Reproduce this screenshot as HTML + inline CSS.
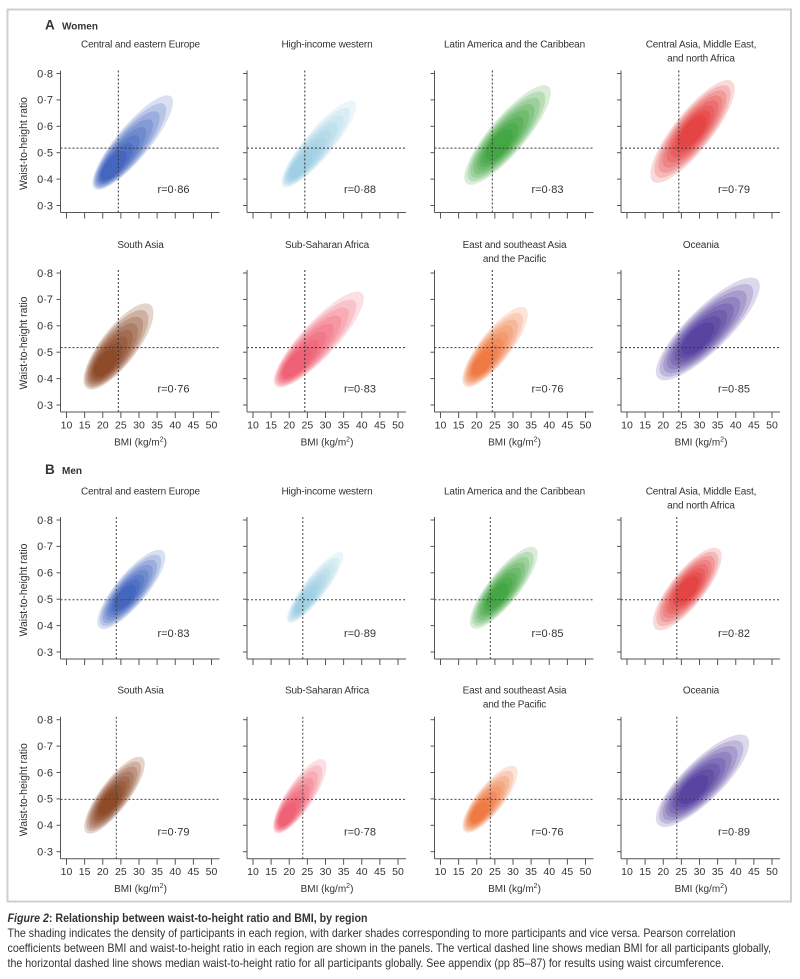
<!DOCTYPE html>
<html>
<head>
<meta charset="utf-8">
<style>
html,body{margin:0;padding:0;background:#fff;}
svg{display:block;}
text{font-family:"Liberation Sans",sans-serif;fill:#333;}
</style>
</head>
<body>
<svg width="800" height="979" viewBox="0 0 800 979" xmlns="http://www.w3.org/2000/svg">
<defs>
  <g id="T0">
    <ellipse cx="0" cy="0" rx="1" ry="1"/>
    <ellipse cx="0" cy="0" rx="0.9" ry="0.921"/>
    <ellipse cx="0" cy="0" rx="0.8" ry="0.843"/>
    <ellipse cx="0" cy="0" rx="0.7" ry="0.764"/>
    <ellipse cx="0" cy="0" rx="0.6" ry="0.686"/>
    <ellipse cx="0" cy="0" rx="0.5" ry="0.607"/>
    <ellipse cx="0" cy="0" rx="0.4" ry="0.529"/>
    <ellipse cx="0" cy="0" rx="0.3" ry="0.45"/>
  </g>
  <g id="T1">
    <ellipse cx="0" cy="0" rx="1" ry="1"/>
    <ellipse cx="-0.0286" cy="0" rx="0.9" ry="0.921"/>
    <ellipse cx="-0.0571" cy="0" rx="0.8" ry="0.843"/>
    <ellipse cx="-0.0857" cy="0" rx="0.7" ry="0.764"/>
    <ellipse cx="-0.1143" cy="0" rx="0.6" ry="0.686"/>
    <ellipse cx="-0.1429" cy="0" rx="0.5" ry="0.607"/>
    <ellipse cx="-0.1714" cy="0" rx="0.4" ry="0.529"/>
    <ellipse cx="-0.2" cy="0" rx="0.3" ry="0.45"/>
  </g>
  <g id="T2">
    <ellipse cx="0" cy="0" rx="1" ry="1"/>
    <ellipse cx="-0.0571" cy="0" rx="0.9" ry="0.921"/>
    <ellipse cx="-0.1143" cy="0" rx="0.8" ry="0.843"/>
    <ellipse cx="-0.1714" cy="0" rx="0.7" ry="0.764"/>
    <ellipse cx="-0.2286" cy="0" rx="0.6" ry="0.686"/>
    <ellipse cx="-0.2857" cy="0" rx="0.5" ry="0.607"/>
    <ellipse cx="-0.3429" cy="0" rx="0.4" ry="0.529"/>
    <ellipse cx="-0.4" cy="0" rx="0.3" ry="0.45"/>
  </g>
  <g id="T3">
    <ellipse cx="0" cy="0" rx="1" ry="1"/>
    <ellipse cx="-0.0714" cy="0" rx="0.9" ry="0.921"/>
    <ellipse cx="-0.1429" cy="0" rx="0.8" ry="0.843"/>
    <ellipse cx="-0.2143" cy="0" rx="0.7" ry="0.764"/>
    <ellipse cx="-0.2857" cy="0" rx="0.6" ry="0.686"/>
    <ellipse cx="-0.3571" cy="0" rx="0.5" ry="0.607"/>
    <ellipse cx="-0.4286" cy="0" rx="0.4" ry="0.529"/>
    <ellipse cx="-0.5" cy="0" rx="0.3" ry="0.45"/>
  </g>
  <g id="axes" stroke="#555" stroke-width="1" fill="none">
    <line x1="0" y1="-3" x2="0" y2="139"/>
    <line x1="0" y1="139" x2="159" y2="139"/>
    <line x1="-4" y1="0" x2="0" y2="0"/>
    <line x1="-4" y1="26.4" x2="0" y2="26.4"/>
    <line x1="-4" y1="52.8" x2="0" y2="52.8"/>
    <line x1="-4" y1="79.2" x2="0" y2="79.2"/>
    <line x1="-4" y1="105.6" x2="0" y2="105.6"/>
    <line x1="-4" y1="132" x2="0" y2="132"/>
    <line x1="6" y1="139" x2="6" y2="145"/>
    <line x1="24.125" y1="139" x2="24.125" y2="145"/>
    <line x1="42.25" y1="139" x2="42.25" y2="145"/>
    <line x1="60.375" y1="139" x2="60.375" y2="145"/>
    <line x1="78.5" y1="139" x2="78.5" y2="145"/>
    <line x1="96.625" y1="139" x2="96.625" y2="145"/>
    <line x1="114.75" y1="139" x2="114.75" y2="145"/>
    <line x1="132.875" y1="139" x2="132.875" y2="145"/>
    <line x1="151" y1="139" x2="151" y2="145"/>
  </g>
  <g id="dashW" stroke="#333" stroke-width="1" stroke-dasharray="2 2" fill="none">
    <line x1="57.8" y1="-3" x2="57.8" y2="139"/>
    <line x1="0" y1="74.6" x2="158" y2="74.6"/>
  </g>
  <g id="dashM" stroke="#444" stroke-width="1" stroke-dasharray="2 2" fill="none">
    <line x1="55.8" y1="-3" x2="55.8" y2="139"/>
    <line x1="0" y1="79.7" x2="158" y2="79.7"/>
  </g>
  <g id="ylab" font-size="11" text-anchor="end">
    <text x="-7.5" y="3.8">0·8</text>
    <text x="-7.5" y="30.2">0·7</text>
    <text x="-7.5" y="56.6">0·6</text>
    <text x="-7.5" y="83">0·5</text>
    <text x="-7.5" y="109.4">0·4</text>
    <text x="-7.5" y="135.8">0·3</text>
    <text x="-37.5" y="70" transform="rotate(-90 -37.5 70)" text-anchor="middle" dy="4" textLength="93" lengthAdjust="spacingAndGlyphs">Waist-to-height ratio</text>
  </g>
  <g id="xlab" font-size="10.5" text-anchor="middle">
    <text x="6" y="155.5">10</text>
    <text x="24.125" y="155.5">15</text>
    <text x="42.25" y="155.5">20</text>
    <text x="60.375" y="155.5">25</text>
    <text x="78.5" y="155.5">30</text>
    <text x="96.625" y="155.5">35</text>
    <text x="114.75" y="155.5">40</text>
    <text x="132.875" y="155.5">45</text>
    <text x="151" y="155.5">50</text>
    <text x="80" y="172.5" font-size="10">BMI (kg/m<tspan font-size="7" dy="-4">2</tspan><tspan dy="4">)</tspan></text>
  </g>
</defs>

<rect x="7.5" y="9.5" width="783.5" height="892" fill="none" stroke="#cfcfcf" stroke-width="2"/>

<!-- Section labels -->
<text x="45" y="29.3" font-size="13.5" font-weight="bold" fill="#222">A</text>
<text x="62" y="29.3" font-size="10" font-weight="bold" fill="#222">Women</text>
<text x="45" y="474" font-size="13.5" font-weight="bold" fill="#222">B</text>
<text x="62" y="474" font-size="10" font-weight="bold" fill="#222">Men</text>

<!-- ================= ROW 1 (Women) ================= -->
<g transform="translate(60.5,73.5)">
  <use href="#T3" fill="#0030a5" fill-opacity="0.15" transform="translate(72.25,69) rotate(-50.3) scale(59.8,16.5)"/>
  <use href="#dashW"/><use href="#axes"/><use href="#ylab"/>
  <text x="80" y="-26" font-size="10" text-anchor="middle" letter-spacing="-0.15">Central and eastern Europe</text>
  <text x="113" y="119.5" font-size="11" text-anchor="middle">r=0·86</text>
</g>
<g transform="translate(247,73.5)">
  <use href="#T3" fill="#5faed3" fill-opacity="0.15" opacity="0.8" transform="translate(71.8,70.5) rotate(-49.9) scale(55.6,14)"/>
  <use href="#dashW"/><use href="#axes"/>
  <text x="80" y="-26" font-size="10" text-anchor="middle" letter-spacing="-0.15">High-income western</text>
  <text x="113" y="119.5" font-size="11" text-anchor="middle">r=0·88</text>
</g>
<g transform="translate(434.5,73.5)">
  <use href="#T1" fill="#008400" fill-opacity="0.15" transform="translate(73,61.5) rotate(-49.8) scale(63.5,18)"/>
  <use href="#dashW"/><use href="#axes"/>
  <text x="80" y="-26" font-size="10" text-anchor="middle" letter-spacing="-0.15">Latin America and the Caribbean</text>
  <text x="113" y="119.5" font-size="11" text-anchor="middle">r=0·83</text>
</g>
<g transform="translate(621,73.5)">
  <use href="#T0" fill="#dd0000" fill-opacity="0.15" transform="translate(71.5,58) rotate(-51.7) scale(63.7,19)"/>
  <use href="#dashW"/><use href="#axes"/>
  <text x="80" y="-26" font-size="10" text-anchor="middle" letter-spacing="-0.15">Central Asia, Middle East,</text>
  <text x="80" y="-12" font-size="10" text-anchor="middle" letter-spacing="-0.15">and north Africa</text>
  <text x="113" y="119.5" font-size="11" text-anchor="middle">r=0·79</text>
</g>

<!-- ================= ROW 2 (Women) ================= -->
<g transform="translate(60.5,273)">
  <use href="#T2" fill="#782800" fill-opacity="0.2" transform="translate(58,73.4) rotate(-52.5) scale(52.5,18)"/>
  <use href="#dashW"/><use href="#axes"/><use href="#ylab"/><use href="#xlab"/>
  <text x="80" y="-25" font-size="10" text-anchor="middle" letter-spacing="-0.15">South Asia</text>
  <text x="113" y="119.5" font-size="11" text-anchor="middle">r=0·76</text>
</g>
<g transform="translate(247,273)">
  <use href="#T3" fill="#e82546" fill-opacity="0.15" transform="translate(71.75,66.5) rotate(-47.1) scale(63.5,17.5)"/>
  <use href="#dashW"/><use href="#axes"/><use href="#xlab"/>
  <text x="80" y="-25" font-size="10" text-anchor="middle" letter-spacing="-0.15">Sub-Saharan Africa</text>
  <text x="113" y="119.5" font-size="11" text-anchor="middle">r=0·83</text>
</g>
<g transform="translate(434.5,273)">
  <use href="#T2" fill="#ea4900" fill-opacity="0.15" transform="translate(60.5,74) rotate(-52) scale(49.5,15.5)"/>
  <use href="#dashW"/><use href="#axes"/><use href="#xlab"/>
  <text x="80" y="-25" font-size="10" text-anchor="middle" letter-spacing="-0.15">East and southeast Asia</text>
  <text x="80" y="-11" font-size="10" text-anchor="middle" letter-spacing="-0.15">and the Pacific</text>
  <text x="113" y="119.5" font-size="11" text-anchor="middle">r=0·76</text>
</g>
<g transform="translate(621,273)">
  <use href="#T1" fill="#1a0080" fill-opacity="0.15" transform="translate(86.8,55.9) rotate(-44.6) scale(70,21)"/>
  <use href="#dashW"/><use href="#axes"/><use href="#xlab"/>
  <text x="80" y="-25" font-size="10" text-anchor="middle" letter-spacing="-0.15">Oceania</text>
  <text x="113" y="119.5" font-size="11" text-anchor="middle">r=0·85</text>
</g>

<!-- ================= ROW 3 (Men) ================= -->
<g transform="translate(60.5,520)">
  <use href="#T1" fill="#0030a5" fill-opacity="0.15" transform="translate(70.85,69.35) rotate(-50.3) scale(49.9,15.5)"/>
  <use href="#dashM"/><use href="#axes"/><use href="#ylab"/>
  <text x="80" y="-25.5" font-size="10" text-anchor="middle" letter-spacing="-0.15">Central and eastern Europe</text>
  <text x="113" y="117" font-size="11" text-anchor="middle">r=0·83</text>
</g>
<g transform="translate(247,520)">
  <use href="#T2" fill="#5faed3" fill-opacity="0.15" opacity="0.8" transform="translate(68,67.7) rotate(-52.4) scale(44.2,11)"/>
  <use href="#dashM"/><use href="#axes"/>
  <text x="80" y="-25.5" font-size="10" text-anchor="middle" letter-spacing="-0.15">High-income western</text>
  <text x="113" y="117" font-size="11" text-anchor="middle">r=0·89</text>
</g>
<g transform="translate(434.5,520)">
  <use href="#T1" fill="#008400" fill-opacity="0.15" transform="translate(69.25,67.7) rotate(-51.6) scale(51,15.5)"/>
  <use href="#dashM"/><use href="#axes"/>
  <text x="80" y="-25.5" font-size="10" text-anchor="middle" letter-spacing="-0.15">Latin America and the Caribbean</text>
  <text x="113" y="117" font-size="11" text-anchor="middle">r=0·85</text>
</g>
<g transform="translate(621,520)">
  <use href="#T0" fill="#dd0000" fill-opacity="0.15" transform="translate(66.3,69) rotate(-51.6) scale(51,17)"/>
  <use href="#dashM"/><use href="#axes"/>
  <text x="80" y="-25.5" font-size="10" text-anchor="middle" letter-spacing="-0.15">Central Asia, Middle East,</text>
  <text x="80" y="-11.5" font-size="10" text-anchor="middle" letter-spacing="-0.15">and north Africa</text>
  <text x="113" y="117" font-size="11" text-anchor="middle">r=0·82</text>
</g>

<!-- ================= ROW 4 (Men) ================= -->
<g transform="translate(60.5,719.7)">
  <use href="#T1" fill="#782800" fill-opacity="0.2" transform="translate(54,75.5) rotate(-53.3) scale(46.8,14.5)"/>
  <use href="#dashM"/><use href="#axes"/><use href="#ylab"/><use href="#xlab"/>
  <text x="80" y="-26" font-size="10" text-anchor="middle" letter-spacing="-0.15">South Asia</text>
  <text x="113" y="116" font-size="11" text-anchor="middle">r=0·79</text>
</g>
<g transform="translate(247,719.7)">
  <use href="#T3" fill="#e82546" fill-opacity="0.15" transform="translate(52.75,76.5) rotate(-56.4) scale(43.8,13.5)"/>
  <use href="#dashM"/><use href="#axes"/><use href="#xlab"/>
  <text x="80" y="-26" font-size="10" text-anchor="middle" letter-spacing="-0.15">Sub-Saharan Africa</text>
  <text x="113" y="116" font-size="11" text-anchor="middle">r=0·78</text>
</g>
<g transform="translate(434.5,719.7)">
  <use href="#T2" fill="#ea4900" fill-opacity="0.15" transform="translate(55.5,79.5) rotate(-51.9) scale(41.3,13.5)"/>
  <use href="#dashM"/><use href="#axes"/><use href="#xlab"/>
  <text x="80" y="-26" font-size="10" text-anchor="middle" letter-spacing="-0.15">East and southeast Asia</text>
  <text x="80" y="-12" font-size="10" text-anchor="middle" letter-spacing="-0.15">and the Pacific</text>
  <text x="113" y="116" font-size="11" text-anchor="middle">r=0·76</text>
</g>
<g transform="translate(621,719.7)">
  <use href="#T1" fill="#1a0080" fill-opacity="0.15" transform="translate(81.5,61) rotate(-44.7) scale(62.6,20)"/>
  <use href="#dashM"/><use href="#axes"/><use href="#xlab"/>
  <text x="80" y="-26" font-size="10" text-anchor="middle" letter-spacing="-0.15">Oceania</text>
  <text x="113" y="116" font-size="11" text-anchor="middle">r=0·89</text>
</g>

<!-- Caption -->
<text x="7.5" y="922" font-size="12" font-weight="bold" fill="#222" textLength="360" lengthAdjust="spacingAndGlyphs"><tspan font-style="italic">Figure 2</tspan>: Relationship between waist-to-height ratio and BMI, by region</text>
<text x="7.5" y="937" font-size="12" fill="#2a2a2a" textLength="728" lengthAdjust="spacingAndGlyphs">The shading indicates the density of participants in each region, with darker shades corresponding to more participants and vice versa. Pearson correlation</text>
<text x="7.5" y="952" font-size="12" fill="#2a2a2a" textLength="763.5" lengthAdjust="spacingAndGlyphs">coefficients between BMI and waist-to-height ratio in each region are shown in the panels. The vertical dashed line shows median BMI for all participants globally,</text>
<text x="7.5" y="967" font-size="12" fill="#2a2a2a" textLength="716.5" lengthAdjust="spacingAndGlyphs">the horizontal dashed line shows median waist-to-height ratio for all participants globally. See appendix (pp 85–87) for results using waist circumference.</text>
</svg>
</body>
</html>
